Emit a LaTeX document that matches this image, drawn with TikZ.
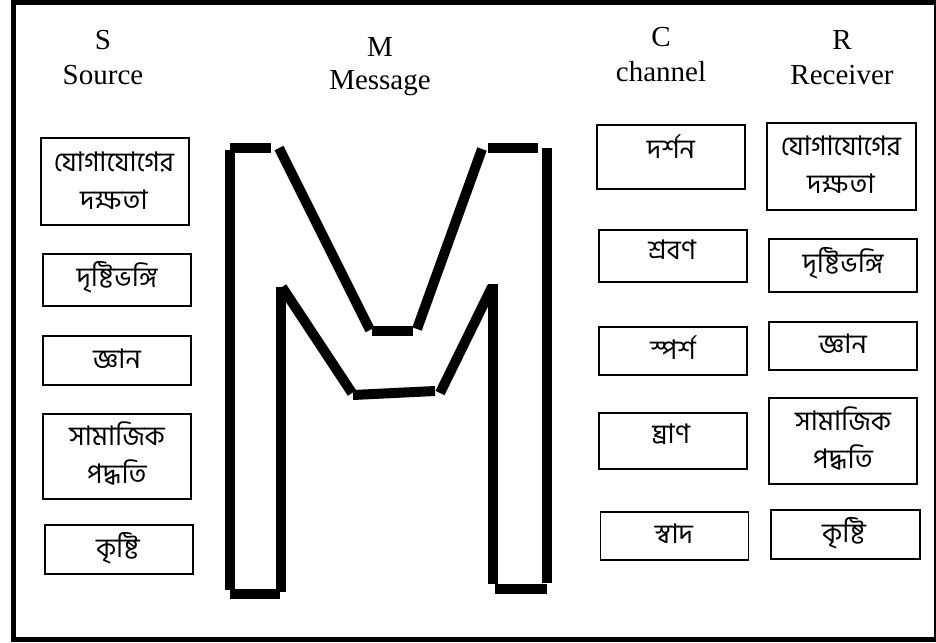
\documentclass[tikz,border=0pt]{standalone}
\usepackage{fontspec}
\setmainfont{Liberation Serif}
\newfontfamily\bn[Script=Bengali]{Hind Siliguri}
\begin{document}
\begin{tikzpicture}[x=1pt,y=-1pt,
  box/.style={draw, line width=1.6pt, inner sep=0pt, minimum width=148pt},
  bt/.style={font=\bn\fontsize{27}{38}\selectfont, align=center, inner sep=0pt},
  hd/.style={font=\fontsize{29}{35}\selectfont, align=center, inner sep=0pt},
  mline/.style={line width=10pt, line cap=butt}]
\useasboundingbox (0,0) rectangle (936,642);
\draw[line width=5pt] (13.5,2.5) -- (936,2.5);
\draw[line width=5pt] (13.5,0) -- (13.5,641.5);
\draw[line width=5pt] (11,639) -- (936,639);
\draw[line width=2pt] (935,0) -- (935,642);
% headers
\node[hd] (hs) at (103,40) {S};
\node[hd] (hs2) at (103,75) {Source};
\node[hd] (hm) at (380,47) {M};
\node[hd] (hm2) at (380,83) {Message};
\node[hd] (hc) at (661,37) {C};
\node[hd] (hc2) at (661,72) {channel};
\node[hd] (hr) at (842,40) {R};
\node[hd] (hr2) at (842,75) {Receiver};
% Source column
\node[box, minimum height=87pt] (s1) at (115,181.5) {};
\node[bt] (s1t) at (114,181) {যোগাযোগের\\দক্ষতা};
\node[box, minimum height=52pt] (s2) at (117,280) {};
\node[bt] (s2t) at (117,277) {দৃষ্টিভঙ্গি};
\node[box, minimum height=49pt] (s3) at (117,360.5) {};
\node[bt] (s3t) at (117,359) {জ্ঞান};
\node[box, minimum height=85pt] (s4) at (117,456.5) {};
\node[bt] (s4t) at (117,453.5) {সামাজিক\\পদ্ধতি};
\node[box, minimum height=49pt] (s5) at (119,549.5) {};
\node[bt] (s5t) at (118,548) {কৃষ্টি};
% Channel column
\node[box, minimum height=64pt] (c1) at (671,157) {};
\node[bt] (c1t) at (671,147) {দর্শন};
\node[box, minimum height=52pt] (c2) at (673,256) {};
\node[bt] (c2t) at (672,250) {শ্রবণ};
\node[box, minimum height=48pt] (c3) at (673,351) {};
\node[bt] (c3t) at (673,348) {স্পর্শ};
\node[box, minimum height=56pt] (c4) at (673,441) {};
\node[bt] (c4t) at (671,434) {ঘ্রাণ};
\node[box, minimum height=48pt] (c5) at (674.5,536) {};
\node[bt] (c5t) at (674,534) {স্বাদ};
% Receiver column
\node[box, minimum height=87pt, minimum width=149pt] (r1) at (841.5,166.5) {};
\node[bt] (r1t) at (841,165) {যোগাযোগের\\দক্ষতা};
\node[box, minimum height=53pt] (r2) at (843,265.5) {};
\node[bt] (r2t) at (843,263) {দৃষ্টিভঙ্গি};
\node[box, minimum height=48pt] (r3) at (843,346) {};
\node[bt] (r3t) at (843,344) {জ্ঞান};
\node[box, minimum height=86pt] (r4) at (843,441) {};
\node[bt] (r4t) at (843,438.5) {সামাজিক\\পদ্ধতি};
\node[box, minimum height=49pt, minimum width=149pt] (r5) at (845.5,534.5) {};
\node[bt] (r5t) at (844,533) {কৃষ্টি};
% Big M made of separate strokes
\draw[mline] (229.5,150) -- (229.5,590);
\draw[mline] (230,148) -- (271,148);
\draw[mline] (279,148) -- (370,330);
\draw[mline] (372,331) -- (413,331);
\draw[mline] (417,329) -- (482,149);
\draw[mline] (488,148) -- (538,148);
\draw[mline] (547,148) -- (547,583);
\draw[mline] (495,589) -- (547,589);
\draw[mline] (493,284) -- (493,584);
\draw[mline] (492,287) -- (440,393);
\draw[mline] (353,395) -- (435,391);
\draw[mline] (282,287) -- (352,393);
\draw[mline] (280.5,287) -- (280.5,592);
\draw[mline] (230,594) -- (280,594);
\end{tikzpicture}
\end{document}
